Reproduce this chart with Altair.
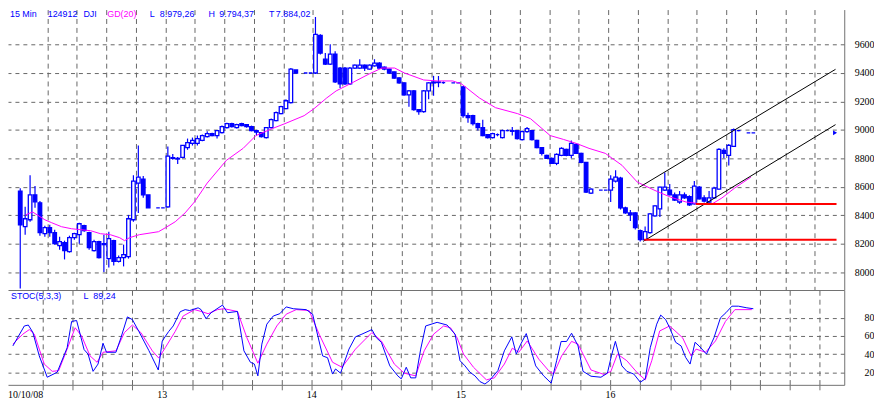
import altair as alt
import pandas as pd

# ---------------- data ----------------
# 15-min bars: (bar index, open, high, low, close)
ohlc = [
    (0, 8570, 8590, 7884, 8333), (1, 8320, 8460, 8263, 8375), (2, 8368, 8681, 8354, 8543),
    (3, 8543, 8606, 8452, 8494), (4, 8487, 8500, 8256, 8278), (5, 8270, 8326, 8249, 8312),
    (6, 8312, 8333, 8249, 8278), (7, 8278, 8298, 8193, 8200), (8, 8186, 8249, 8158, 8214),
    (9, 8207, 8221, 8089, 8151), (10, 8144, 8256, 8137, 8242), (11, 8242, 8277, 8228, 8270),
    (12, 8263, 8347, 8200, 8340), (13, 8326, 8333, 8284, 8291), (14, 8277, 8284, 8158, 8172),
    (15, 8151, 8228, 8144, 8214), (16, 8214, 8221, 8095, 8102), (17, 8200, 8263, 8000, 8193),
    (18, 8095, 8284, 8033, 8235), (19, 8221, 8228, 8047, 8075), (20, 8075, 8116, 8068, 8102),
    (21, 8102, 8193, 8040, 8123), (22, 8109, 8402, 8095, 8375), (23, 8368, 8681, 8354, 8640),
    (24, 8626, 8891, 8416, 8668), (25, 8654, 8675, 8522, 8543), (26, 8543, 8543, 8452, 8452),
    (28, 8452, 8452, 8452, 8452), (29, 8452, 8452, 8452, 8452),
    (30, 8459, 8884, 8452, 8815), (31, 8800, 8830, 8790, 8805), (32, 8795, 8810, 8760, 8800),
    (33, 8807, 8891, 8800, 8891), (34, 8876, 8939, 8860, 8911), (35, 8905, 8946, 8890, 8926),
    (36, 8905, 8960, 8890, 8939), (37, 8926, 8967, 8920, 8960), (38, 8953, 8990, 8946, 8974),
    (39, 8974, 8980, 8955, 8960), (40, 8960, 9000, 8939, 8995), (41, 8981, 9030, 8975, 9023),
    (42, 9016, 9050, 9010, 9044), (43, 9044, 9050, 9016, 9023), (44, 9016, 9044, 9010, 9037),
    (45, 9044, 9050, 9025, 9030), (46, 9037, 9040, 9016, 9023), (47, 9023, 9030, 8990, 8995),
    (48, 8995, 9000, 8960, 8985), (49, 8981, 8985, 8946, 8953), (50, 8946, 9020, 8940, 9016),
    (51, 9016, 9080, 9010, 9072), (52, 9065, 9130, 9060, 9121), (53, 9114, 9170, 9110, 9163),
    (54, 9149, 9215, 9145, 9205), (55, 9191, 9435, 9185, 9428), (56, 9421, 9421, 9400, 9400),
    (58, 9400, 9400, 9400, 9400), (59, 9400, 9400, 9400, 9400),
    (60, 9400, 9794, 9393, 9672), (61, 9665, 9672, 9530, 9540), (62, 9497, 9540, 9456, 9463),
    (63, 9463, 9602, 9456, 9533), (64, 9533, 9553, 9330, 9337), (65, 9435, 9442, 9295, 9323),
    (66, 9435, 9442, 9316, 9323), (67, 9323, 9442, 9316, 9435), (68, 9435, 9460, 9430, 9456),
    (69, 9435, 9497, 9430, 9456), (70, 9456, 9460, 9414, 9435), (71, 9428, 9460, 9425, 9456),
    (72, 9450, 9497, 9445, 9470), (73, 9470, 9476, 9430, 9435), (74, 9442, 9445, 9420, 9428),
    (75, 9428, 9430, 9395, 9400), (76, 9407, 9410, 9360, 9365), (77, 9365, 9370, 9325, 9330),
    (78, 9330, 9335, 9240, 9246), (79, 9246, 9280, 9163, 9274), (80, 9274, 9280, 9135, 9142),
    (81, 9142, 9145, 9107, 9128), (82, 9128, 9280, 9120, 9274), (83, 9274, 9335, 9215, 9330),
    (84, 9330, 9380, 9240, 9337), (85, 9333, 9379, 9300, 9337), (86, 9333, 9340, 9325, 9333),
    (88, 9330, 9330, 9330, 9330), (89, 9330, 9330, 9330, 9330),
    (90, 9302, 9309, 9086, 9100), (91, 9100, 9121, 9051, 9086), (92, 9100, 9107, 9030, 9044),
    (93, 9044, 9050, 8995, 9016), (94, 9016, 9072, 8955, 8960), (95, 8967, 8970, 8940, 8946),
    (96, 8946, 8980, 8940, 8974), (97, 8967, 8975, 8955, 8967), (98, 8946, 9002, 8940, 8995),
    (99, 8995, 9002, 8990, 8995), (100, 8995, 9020, 8960, 8990), (101, 8995, 9000, 8932, 8939),
    (102, 8932, 8995, 8925, 8988), (103, 8988, 9020, 8980, 9009), (104, 8995, 9000, 8925, 8932),
    (105, 8926, 8930, 8870, 8876), (106, 8876, 8880, 8820, 8835), (107, 8821, 8825, 8795, 8800),
    (108, 8800, 8805, 8760, 8765), (109, 8765, 8835, 8752, 8828), (110, 8821, 8878, 8815, 8870),
    (111, 8863, 8868, 8815, 8821), (112, 8821, 8926, 8800, 8905), (113, 8898, 8905, 8830, 8835),
    (114, 8835, 8840, 8765, 8772), (115, 8772, 8775, 8556, 8563), (116, 8556, 8590, 8550, 8584),
    (118, 8577, 8577, 8577, 8577), (119, 8577, 8577, 8577, 8577),
    (120, 8577, 8681, 8493, 8654), (121, 8640, 8716, 8630, 8668), (122, 8661, 8670, 8440, 8452),
    (123, 8452, 8460, 8410, 8416), (124, 8416, 8437, 8360, 8402), (125, 8416, 8420, 8300, 8312),
    (126, 8291, 8300, 8215, 8228), (127, 8228, 8320, 8221, 8284), (128, 8277, 8415, 8270, 8409),
    (129, 8395, 8470, 8390, 8465), (130, 8445, 8600, 8388, 8598), (131, 8577, 8700, 8570, 8598),
    (132, 8577, 8620, 8540, 8543), (133, 8543, 8560, 8500, 8507), (134, 8493, 8570, 8480, 8543),
    (135, 8543, 8560, 8515, 8522), (136, 8530, 8540, 8465, 8472), (137, 8480, 8640, 8475, 8605),
    (138, 8598, 8605, 8510, 8515), (139, 8522, 8540, 8490, 8500), (140, 8493, 8570, 8488, 8522),
    (141, 8522, 8600, 8515, 8590), (142, 8584, 8870, 8580, 8863), (143, 8856, 8870, 8800, 8835),
    (144, 8821, 8900, 8750, 8891), (145, 8884, 9009, 8880, 9002), (146, 8995, 8995, 8990, 8995),
    (148, 8979, 8979, 8979, 8979), (149, 8979, 8979, 8979, 8979),
]

# GD(20) moving average: (bar index, value)
ma20 = [
    (1.1, 8402), (2.5, 8423), (5.0, 8368), (6.4, 8347), (8.4, 8319), (10.4, 8305), (12.3, 8298),
    (14.3, 8291), (16.3, 8270), (18.3, 8263), (20.2, 8242), (21.2, 8221), (22.2, 8242), (24.2, 8263),
    (28.1, 8284), (29.5, 8312), (31.5, 8354), (33.5, 8416), (35.4, 8493), (38.0, 8626), (41.9, 8786),
    (45.3, 8870), (47.9, 8960), (51.2, 9009), (53.8, 9044), (57.7, 9100), (59.7, 9149), (62.3, 9225),
    (64.2, 9274), (67.0, 9323), (70.9, 9393), (73.5, 9435), (76.1, 9435), (78.1, 9400), (82.0, 9351),
    (84.8, 9344), (87.9, 9344), (89.7, 9323), (93.3, 9225), (96.6, 9156), (101.1, 9114), (103.7, 9079),
    (107.7, 8960), (110.4, 8933), (113.0, 8905), (115.6, 8870), (118.9, 8835), (122.3, 8751),
    (125.4, 8633), (128.8, 8577), (132.1, 8528), (135.3, 8493), (138.6, 8479), (140.6, 8479),
    (142.6, 8521), (145.2, 8591), (148.5, 8668),
]

# Stochastic %K (blue) and %D (magenta)
stoch_k = [
    (-0.5, 49), (1.8, 71), (2.6, 72), (3.5, 64), (4.8, 38), (6.4, 14.5), (8.4, 20), (10.4, 47),
    (11.3, 76), (12.3, 77), (13.8, 45), (14.6, 40), (15.6, 21), (16.6, 29), (17.6, 52), (18.3, 42),
    (20.2, 42), (21.2, 58), (22.5, 81), (23.5, 78), (24.8, 65), (26.8, 44), (28.7, 22.5), (29.5, 54.5),
    (30.8, 65), (31.7, 71), (33.1, 86.7), (34.1, 89), (35.0, 88), (36.7, 91), (37.3, 89), (38.3, 79),
    (39.3, 85.6), (41.6, 94), (42.6, 85.6), (44.6, 87), (45.9, 43.6), (47.2, 31), (48.0, 29),
    (48.7, 16), (49.5, 51), (50.5, 73), (51.8, 82), (53.1, 84.5), (54.4, 92), (55.8, 90), (58.4, 89),
    (59.7, 84), (61.7, 38), (62.7, 36), (63.7, 18), (64.3, 23.6), (65.3, 19), (67.0, 45.5), (68.3, 59),
    (69.6, 62), (71.6, 67), (72.5, 58), (73.5, 53), (75.2, 27), (76.8, 16), (77.5, 12.7), (78.5, 25.5),
    (79.4, 13.8), (80.4, 13.8), (81.4, 45.5), (82.4, 71), (84.7, 75), (86.7, 72), (88.3, 62),
    (89.3, 32.7), (90.3, 27), (91.3, 20), (92.3, 16), (93.3, 9.7), (94.3, 7), (95.2, 10.8),
    (96.9, 21.7), (98.2, 43.6), (99.7, 59), (100.6, 40), (101.5, 51), (102.6, 62.6), (104.5, 27),
    (106.1, 16), (107.6, 8), (108.7, 32.7), (109.6, 53.9), (110.7, 53.9), (111.7, 63), (113.0, 49),
    (114.0, 21), (115.6, 15.6), (117.6, 14.5), (118.9, 19), (119.7, 38), (120.5, 54), (121.8, 27),
    (122.8, 21), (124.2, 18), (125.5, 9), (126.5, 12.7), (127.5, 47), (128.8, 73), (129.6, 83),
    (130.6, 78), (131.4, 69), (132.6, 53), (133.7, 49), (134.6, 36.4), (135.5, 29), (136.5, 53),
    (137.3, 49), (138.8, 40), (140.3, 58), (141.6, 80), (142.7, 85.6), (143.9, 92.8), (145.2, 92.8),
    (146.9, 91), (148.2, 90),
]
stoch_d = [
    (-0.5, 51), (1.5, 62), (2.8, 67), (3.8, 62), (5.8, 29), (7.4, 21), (8.7, 21.7), (10.4, 45.5),
    (12.0, 69), (13.3, 60), (15.0, 38), (16.4, 31), (17.6, 42), (20.2, 43.6), (21.9, 63.7), (23.5, 72),
    (25.2, 63.7), (27.5, 43.6), (28.8, 35.6), (30.1, 47), (32.1, 65), (33.7, 82), (36.0, 89), (37.3, 87),
    (38.7, 84.5), (40.6, 89), (41.9, 90), (44.6, 87), (46.5, 58), (48.7, 30), (50.5, 51), (52.5, 71),
    (54.4, 84), (56.4, 89), (59.0, 88), (61.0, 62), (63.7, 31), (65.6, 25.5), (68.3, 45.5), (71.6, 63.7),
    (73.5, 54.5), (76.1, 29), (78.1, 19), (80.4, 16), (82.1, 43.6), (84.0, 62), (86.0, 71), (87.4, 69),
    (88.7, 58), (90.0, 40), (92.0, 25.5), (94.6, 11.6), (96.2, 13.8), (98.2, 29), (99.8, 46.5),
    (101.1, 42), (102.8, 54.5), (105.1, 34.5), (107.1, 21.7), (108.1, 18), (109.7, 38), (111.7, 54),
    (113.0, 51), (115.6, 22.5), (118.3, 17.4), (119.6, 21), (120.9, 40), (122.8, 32.7), (124.8, 20),
    (126.5, 11.6), (127.8, 32.7), (129.4, 65.5), (131.4, 71), (134.0, 58), (135.7, 38), (136.7, 45.5),
    (138.6, 42), (140.6, 54.5), (142.6, 76), (144.5, 89), (147.9, 89),
]

# trend channel (black) and support lines (red)
channel = [("upper", 125.8, 8596), ("upper", 165.7, 9426), ("lower", 126.6, 8216), ("lower", 165.7, 9037)]
supports = [(137.3, 165.9, 8479), (126.8, 165.9, 8228)]
last_price = [(165.6, 8979)]

day_start = [29.5, 59.5, 89.5, 119.5]
day_label = ["13", "14", "15", "16"]
price_ticks = [8000, 8200, 8400, 8600, 8800, 9000, 9200, 9400, 9600]
stoch_ticks = [20, 40, 60, 80]

# ---------------- layout ----------------
W, H1, H2 = 843, 282.7, 95.3
BLUE, MAG, GRID, AX = "#0000FF", "#FF00FF", "#666666", "#707070"
grid_x = [5.5 + 6 * k for k in range(27)]

bars = pd.DataFrame(ohlc, columns=["i", "o", "h", "l", "c"])
ma_df = pd.DataFrame(ma20, columns=["i", "v"])
k_df = pd.DataFrame(stoch_k, columns=["i", "v"])
d_df = pd.DataFrame(stoch_d, columns=["i", "v"])
ch_df = pd.DataFrame(channel, columns=["g", "i", "v"])
sup_df = pd.DataFrame(supports, columns=["i", "i2", "v"])
lp_df = pd.DataFrame(last_price, columns=["i", "v"])
day_df = pd.DataFrame({"i": day_start, "t": day_label})

xs = alt.Scale(domain=[-1.48, 166.46], nice=False, zero=False)
ys = alt.Scale(domain=[7874, 9846], nice=False, zero=False)
ss = alt.Scale(domain=[6.1, 110.3], nice=False, zero=False)

ax_x_main = alt.Axis(values=grid_x, grid=True, gridDash=[5, 4], gridColor=GRID, gridWidth=1,
                     labels=False, ticks=False, domain=True, domainColor=AX, title=None)
ax_x_low = alt.Axis(values=grid_x, grid=True, gridDash=[5, 4], gridColor=GRID, gridWidth=1,
                    labels=False, ticks=True, tickSize=5, tickColor=AX, domain=True,
                    domainColor=AX, title=None)


def yaxis(vals):
    return alt.Axis(orient="right", values=vals, format="d", grid=True, gridDash=[4, 4],
                    gridColor=GRID, ticks=False, tickSize=0, domain=True, domainColor=AX,
                    labelAlign="right", labelPadding=30, labelFont="Liberation Serif",
                    labelFontSize=10, labelColor="black", labelBaseline="middle", title=None)


ax_y_main = yaxis(price_ticks)
ax_y_low = yaxis(stoch_ticks)


def XM(f):
    return alt.X(f"{f}:Q", scale=xs, axis=ax_x_main)


def YM(f):
    return alt.Y(f"{f}:Q", scale=ys, axis=ax_y_main)


def XL(f):
    return alt.X(f"{f}:Q", scale=xs, axis=ax_x_low)


def YL(f):
    return alt.Y(f"{f}:Q", scale=ss, axis=ax_y_low)


one = pd.DataFrame({"a": [0]})


def label(text, x, y, color=BLUE, size=9, font="Liberation Sans"):
    return alt.Chart(one).mark_text(text=text, align="left", baseline="top", font=font,
                                    fontSize=size, color=color).encode(
        x=alt.value(x), y=alt.value(y))


# ---------------- main panel ----------------
wick = alt.Chart(bars).mark_rule(color=BLUE, strokeWidth=1.2).encode(
    x=XM("i"), y=YM("l"), y2="h:Q")
body = alt.Chart(bars).mark_bar(size=3.6, stroke=BLUE, strokeWidth=1.3).encode(
    x=XM("i"), y=YM("o"), y2="c:Q",
    fill=alt.condition("datum.c >= datum.o", alt.value("white"), alt.value(BLUE)))
ma_line = alt.Chart(ma_df).mark_line(color=MAG, strokeWidth=1).encode(x=XM("i"), y=YM("v"))
chan = alt.Chart(ch_df).mark_line(color="black", strokeWidth=1).encode(
    x=XM("i"), y=YM("v"), detail="g:N")
sup = alt.Chart(sup_df).mark_rule(color="#FF0000", strokeWidth=2).encode(
    x=XM("i"), x2="i2:Q", y=YM("v"))
lp = alt.Chart(lp_df).mark_point(shape="triangle-right", filled=True, size=22, color=BLUE,
                                 opacity=1).encode(x=XM("i"), y=YM("v"))

header = [
    label("15 Min", 2, 0), label("124912", 40, 0), label("DJI", 76, 0),
    label("GD(20)", 100, 0, MAG), label("L", 143, 0), label("8.979,26", 153, 0),
    label("H", 202, 0), label("9.794,37", 213, 0), label("T", 263, 0), label("7.884,02", 270, 0),
]

main = alt.layer(wick, body, ma_line, chan, sup, lp, *header).properties(width=W, height=H1)

# ---------------- stochastic panel ----------------
k_line = alt.Chart(k_df).mark_line(color=BLUE, strokeWidth=1).encode(x=XL("i"), y=YL("v"))
d_line = alt.Chart(d_df).mark_line(color=MAG, strokeWidth=1).encode(x=XL("i"), y=YL("v"))
days = alt.Chart(day_df).mark_text(align="center", baseline="middle", font="Liberation Serif",
                                   fontSize=10, color="black").encode(
    x=XL("i"), y=alt.value(H2 + 10), text="t:N")
first_day = alt.Chart(one).mark_text(text="10/10/08", align="left", baseline="middle",
                                     font="Liberation Serif", fontSize=10, color="black").encode(
    x=alt.value(0), y=alt.value(H2 + 10))
st_head = [label("STOC(5,3,3)", 3, 2), label("L", 76, 2), label("89,24", 86, 2)]

lower = alt.layer(d_line, k_line, days, first_day, *st_head).properties(width=W, height=H2)

chart = alt.vconcat(main, lower, spacing=0, bounds="flush", padding=0).configure_view(
    stroke=None).properties(background="white")

chart.save("out.html", embed_options={"renderer": "svg", "actions": False})
